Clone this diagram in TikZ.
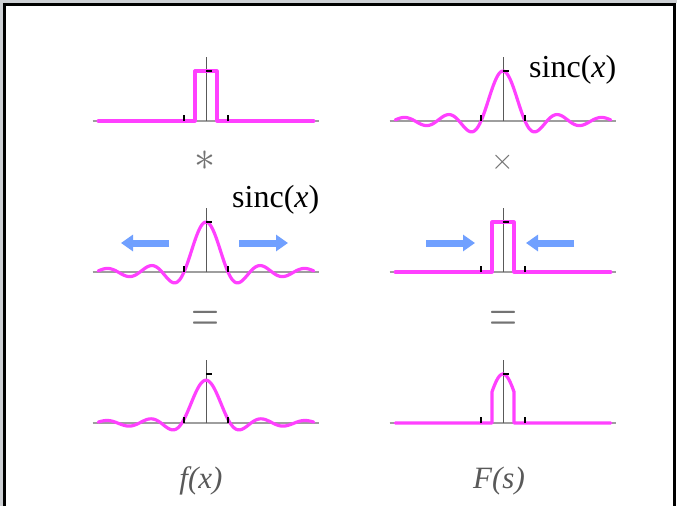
\documentclass[tikz,border=0pt]{standalone}
\usepackage{fontspec}
\usepackage{graphicx}
\setmainfont{Liberation Serif}
\usetikzlibrary{arrows.meta}
\definecolor{mag}{RGB}{255,64,255}
\definecolor{arrblue}{RGB}{112,160,255}
\definecolor{framegray}{RGB}{205,208,212}
\newcommand\mypanelaxes{%
  \draw[haxis] (-5.15,0) -- (5.15,0);
  \draw[vaxis] (0,0) -- (0,1.28);
}
\newcommand\mypanelticks{%
  \draw[tickmark] (-1,0) -- (-1,0.12);
  \draw[tickmark] (1,0) -- (1,0.12);
  \draw[tickmark] (0,1) -- (0.27,1);
}
\begin{document}
\begin{tikzpicture}[x=1pt,y=-1pt,
  declare function={
    sinc(\t)=sin(180*(\t+0.00001))/(pi*(\t+0.00001));
    conv(\t)=(0.99839*cos(11.25*\t)+0.98561*cos(33.75*\t)+0.96032*cos(56.25*\t)+0.92312*cos(78.75*\t)+0.87487*cos(101.25*\t)+0.81665*cos(123.75*\t)+0.74980*cos(146.25*\t)+0.67579*cos(168.75*\t))/8;
  },
  curve/.style={mag,line width=3.2pt,line join=round,line cap=round},
  haxis/.style={draw=black!38,line width=1.4pt},
  vaxis/.style={draw=black!65,line width=0.7pt},
  tickmark/.style={black,line width=1.8pt},
  bigarrow/.style={arrblue,line width=7pt,-{Triangle[length=12pt,width=16pt]}},
  op/.style={text=black!55,inner sep=0pt},
  sinclabel/.style={anchor=base west,inner sep=0pt,font=\fontsize{32}{32}\selectfont},
  funclabel/.style={anchor=base,inner sep=0pt,text=black!65,font=\fontsize{31}{31}\selectfont\itshape},
]
\useasboundingbox (0,0) rectangle (677,506);
\fill[framegray] (0,0) rectangle (677,506);
\fill[white] (3,3) rectangle (677,506);
\draw[black,line width=3pt] (4.5,506) -- (4.5,4.5) -- (674.5,4.5) -- (674.5,506);

% top-left: rect
\begin{scope}[shift={(206,121)},x=22pt,y=50pt]
  \mypanelaxes
  \draw[curve] (-4.9,0) -- (-0.5,0) -- (-0.5,1) -- (0.5,1) -- (0.5,0) -- (4.9,0);
  \mypanelticks
\end{scope}
% top-right: sinc
\begin{scope}[shift={(503,121)},x=22pt,y=50pt]
  \mypanelaxes
  \draw[curve] plot[domain=-4.9:4.9,samples=241,smooth] (\x,{sinc(\x)});
  \mypanelticks
\end{scope}
% mid-left: sinc
\begin{scope}[shift={(206,272)},x=22pt,y=50pt]
  \mypanelaxes
  \draw[curve] plot[domain=-4.9:4.9,samples=241,smooth] (\x,{sinc(\x)});
  \mypanelticks
\end{scope}
% mid-right: rect
\begin{scope}[shift={(503,272)},x=22pt,y=50pt]
  \mypanelaxes
  \draw[curve] (-4.9,0) -- (-0.5,0) -- (-0.5,1) -- (0.5,1) -- (0.5,0) -- (4.9,0);
  \mypanelticks
\end{scope}
% bottom-left: convolution
\begin{scope}[shift={(206,423)},x=22pt,y=49pt]
  \mypanelaxes
  \draw[curve] plot[domain=-4.9:4.9,samples=241,smooth] (\x,{conv(\x)});
  \mypanelticks
\end{scope}
% bottom-right: product
\begin{scope}[shift={(503,423)},x=22pt,y=49pt]
  \mypanelaxes
  \draw[curve] (-4.9,0) -- (-0.5,0) -- plot[domain=-0.5:0.5,samples=31,smooth] (\x,{sinc(\x)}) -- (0.5,0) -- (4.9,0);
  \mypanelticks
\end{scope}

% labels
\node[sinclabel] (s1) at (529,77) {sinc(\textit{x})};
\node[sinclabel] (s2) at (232,207) {sinc(\textit{x})};
\node[funclabel] (fx) at (201,488) {f(x)};
\node[funclabel] (Fs) at (499,488) {F(s)};

% operators
\node[op] (opconv) at (205,161) {\scalebox{4.2}{$\ast$}};
\node[op] (optimes) at (503,162) {\scalebox{2.9}{$\times$}};
\node[op] (eq1) at (205,321) {\scalebox{3.6}[5.5]{$=$}};
\node[op] (eq2) at (503,321) {\scalebox{3.6}[5.5]{$=$}};

% arrows
\coordinate (la1) at (169,243);
\coordinate (la2) at (121,243);
\coordinate (ra1) at (239,243);
\coordinate (ra2) at (288,243);
\coordinate (lb1) at (426,243);
\coordinate (lb2) at (475,243);
\coordinate (rb1) at (574,243);
\coordinate (rb2) at (526,243);
\draw[bigarrow] (la1) -- (la2);
\draw[bigarrow] (ra1) -- (ra2);
\draw[bigarrow] (lb1) -- (lb2);
\draw[bigarrow] (rb1) -- (rb2);
\end{tikzpicture}
\end{document}
